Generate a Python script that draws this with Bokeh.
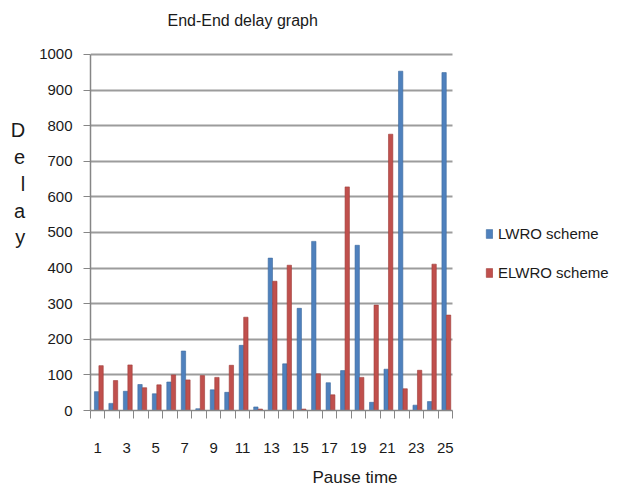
from bokeh.plotting import figure
from bokeh.models import (ColumnDataSource, Range1d, FixedTicker, Legend, LegendItem)
from bokeh.transform import dodge
from bokeh.embed import file_html
from bokeh.resources import INLINE

pause_time = list(range(1, 26))
lwro = [53, 20, 54, 73, 47, 80, 167, 5, 58, 51, 183, 10, 428, 131, 287,
        475, 78, 112, 464, 23, 116, 953, 15, 25, 949]
elwro = [126, 84, 128, 64, 72, 100, 86, 98, 93, 127, 262, 4, 363, 408, 4,
         103, 44, 628, 93, 296, 776, 61, 113, 411, 268]
x_tick_labels = [1, 3, 5, 7, 9, 11, 13, 15, 17, 19, 21, 23, 25]
y_ticks = [0, 100, 200, 300, 400, 500, 600, 700, 800, 900, 1000]

BLUE = "#4F81BD"
RED = "#C0504D"
FONT = "Liberation Sans"

n = len(pause_time)
y_max = 1000
# layout geometry (pixels)
W, H = 619, 490
LEFT, BOTTOM = 90, 80
TITLE_H, TITLE_STANDOFF = 18, 18     # title panel -> frame top at ~36 px
FRAME_TOP = TITLE_H + TITLE_STANDOFF
PLOT_W, PLOT_H = 362, 357            # area occupied by categories / 0..1000
FRAME_W, FRAME_H = W - LEFT, H - BOTTOM - FRAME_TOP
x_lo, x_hi = 0.5, n + 0.5
ux = PLOT_W / n                      # px per category
uy = PLOT_H / y_max                  # px per unit
x_end = x_lo + FRAME_W / ux
y_end = FRAME_H / uy

src = ColumnDataSource(dict(x=pause_time, lwro=lwro, elwro=elwro))

p = figure(width=W, height=H, output_backend="svg", toolbar_location=None,
           x_range=Range1d(x_lo, x_end), y_range=Range1d(0, y_end),
           min_border_left=LEFT, min_border_right=0, min_border_top=0,
           min_border_bottom=BOTTOM, title="End-End delay graph")
p.outline_line_color = None
p.background_fill_color = "white"
p.border_fill_color = "white"

p.title.align = "left"
p.title.offset = 77
p.title.standoff = TITLE_STANDOFF
p.title.text_font = FONT
p.title.text_font_size = "16px"
p.title.text_font_style = "normal"
p.title.text_color = "#1a1a1a"

r1 = p.vbar(x=dodge("x", -0.08, range=p.x_range), top="lwro", width=0.3,
            source=src, fill_color=BLUE, line_color="#3C6A9E", line_width=0.6)
r2 = p.vbar(x=dodge("x", 0.23, range=p.x_range), top="elwro", width=0.3,
            source=src, fill_color=RED, line_color="#9E3A37", line_width=0.6)

# x axis
xa = p.xaxis[0]
xa.bounds = (x_lo, x_hi)
xa.ticker = FixedTicker(ticks=x_tick_labels,
                        minor_ticks=[v + 0.5 for v in range(0, n + 1)])
xa.major_tick_line_color = None
xa.major_tick_out = 0
xa.major_tick_in = 0
xa.minor_tick_out = 8
xa.minor_tick_in = 0
xa.minor_tick_line_color = "#868686"
xa.axis_line_color = "#868686"
xa.axis_line_width = 1.5
xa.major_label_standoff = 24
xa.major_label_text_font = FONT
xa.major_label_text_font_size = "15px"
xa.major_label_text_color = "#1a1a1a"
xa.axis_label = "Pause time"
xa.axis_label_text_font = FONT
xa.axis_label_text_font_size = "17px"
xa.axis_label_text_font_style = "normal"
xa.axis_label_text_color = "#1a1a1a"
xa.axis_label_standoff = 12

# y axis
ya = p.yaxis[0]
ya.bounds = (0, y_max)
ya.ticker = FixedTicker(ticks=y_ticks, minor_ticks=[])
ya.major_tick_out = 7
ya.major_tick_in = 0
ya.major_tick_line_color = "#868686"
ya.axis_line_color = "#868686"
ya.axis_line_width = 1.5
ya.major_label_standoff = 11
ya.major_label_text_font = FONT
ya.major_label_text_font_size = "15px"
ya.major_label_text_color = "#1a1a1a"
ya.axis_label = "D\ne\nl\na\ny\n \n \n "
ya.axis_label_orientation = "horizontal"
ya.axis_label_text_line_height = 1.22
ya.axis_label_text_font = FONT
ya.axis_label_text_font_size = "20px"
ya.axis_label_text_font_style = "normal"
ya.axis_label_text_color = "#1a1a1a"
ya.axis_label_standoff = 11

p.xgrid.grid_line_color = None
p.ygrid.ticker = FixedTicker(ticks=y_ticks)
p.ygrid.cross_bounds = (x_lo, x_hi)
p.ygrid.grid_line_color = "#9c9c9c"
p.ygrid.grid_line_width = 2

legend = Legend(items=[LegendItem(label="LWRO scheme", renderers=[r1]),
                       LegendItem(label="ELWRO scheme", renderers=[r2])],
                location=(395, 129), orientation="vertical")
legend.border_line_color = None
legend.background_fill_alpha = 0
legend.padding = 0
legend.margin = 0
legend.spacing = 22
legend.glyph_width = 8
legend.glyph_height = 11
legend.label_standoff = 5
legend.label_text_font = FONT
legend.label_text_font_size = "15px"
legend.label_text_color = "#1a1a1a"
p.add_layout(legend, "center")

open("out.html", "w").write(file_html(p, INLINE))
